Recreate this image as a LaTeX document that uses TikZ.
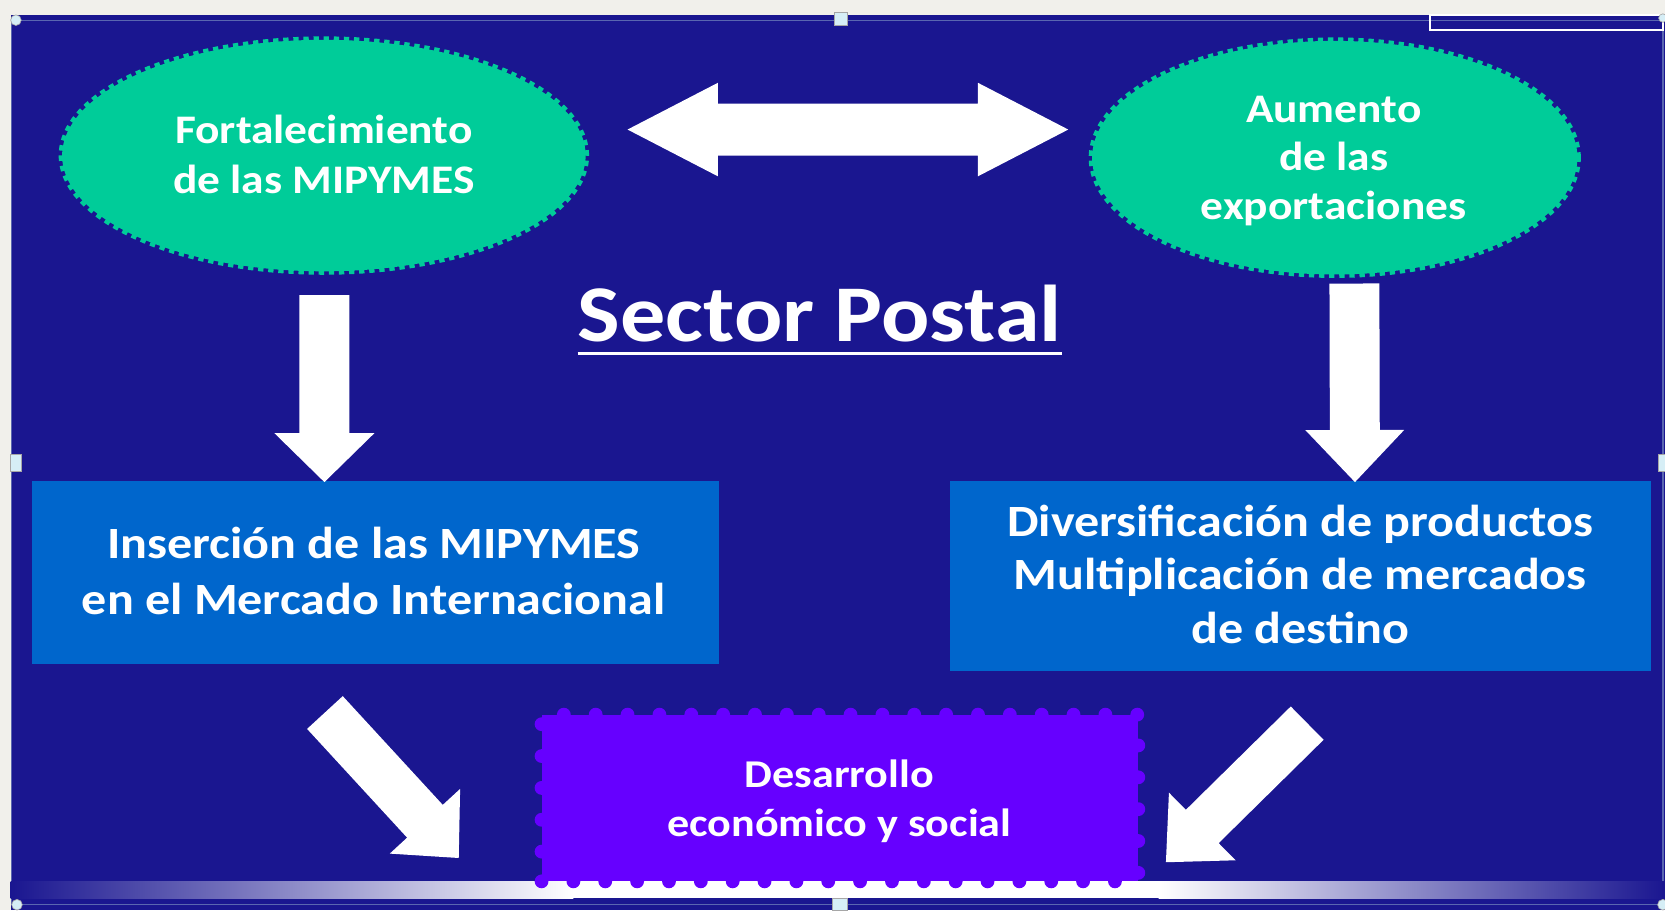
\documentclass[tikz,border=0pt]{standalone}
\usepackage{fontspec}
\setmainfont{Carlito}[FakeStretch=1.12]
\usetikzlibrary{shapes.geometric,calc}
\definecolor{navy}{HTML}{1A1690}
\definecolor{mint}{HTML}{00CC99}
\definecolor{boxblue}{HTML}{0066CC}
\definecolor{violetbox}{HTML}{6600FF}
\definecolor{cream}{HTML}{F1F0EB}
\definecolor{framec}{HTML}{5A66B0}
\definecolor{handlec}{HTML}{D6EEF6}
% #1 name, #2 tail, #3 tip, #4 half shaft, #5 half head, #6 head length
\newcommand\blockarrow[6]{%
  \coordinate (#1h) at ($(#3)!#6!(#2)$);
  \fill[white] ($(#2)!#4!90:(#3)$) -- ($(#1h)!#4!90:(#3)$) -- ($(#1h)!#5!90:(#3)$)
    -- (#3) -- ($(#1h)!#5!-90:(#3)$) -- ($(#1h)!#4!-90:(#3)$) -- ($(#2)!#4!-90:(#3)$) -- cycle;}
\newcommand\twinarrow[6]{%
  \coordinate (#1a) at ($(#2)!#6!(#3)$);
  \coordinate (#1b) at ($(#3)!#6!(#2)$);
  \fill[white] (#2) -- ($(#1a)!#5!90:(#3)$) -- ($(#1a)!#4!90:(#3)$) -- ($(#1b)!#4!90:(#3)$)
    -- ($(#1b)!#5!90:(#3)$) -- (#3) -- ($(#1b)!#5!-90:(#3)$) -- ($(#1b)!#4!-90:(#3)$)
    -- ($(#1a)!#4!-90:(#3)$) -- ($(#1a)!#5!-90:(#3)$) -- cycle;}
\begin{document}
\begin{tikzpicture}[x=1pt,y=-1pt,
  ell/.style={ellipse, fill=mint, draw=mint, line width=6.5pt,
    dash pattern=on 5pt off 4.5pt, inner sep=0pt},
  bluebox/.style={rectangle, fill=boxblue, inner sep=0pt},
  pbox/.style={rectangle, fill=violetbox, draw=violetbox, line width=13pt,
    dash pattern=on 0pt off 30pt, line cap=round, inner sep=0pt},
  txt/.style={text=white, align=center, inner sep=0pt},
  handle/.style={fill=handlec, draw=gray!70, line width=0.6pt}]
\useasboundingbox (0,0) rectangle (1568,857);
\fill[cream] (0,0) rectangle (1568,857);
\fill[navy] (10,14) rectangle (1568,857);
\draw[framec, line width=1.2pt] (11,19.5) rectangle (1566,852);
\draw[white, line width=2pt] (1347,14) rectangle (1566,28);
% bottom gradient bar
\shade[left color=navy, right color=white] (10,830) rectangle (540,846);
\fill[white] (540,830) rectangle (1091,846);
\shade[left color=white, right color=navy] (1091,830) rectangle (1568,846);
% shapes
\node[ell, minimum width=493pt, minimum height=218pt] (e1) at (305,146.5) {};
\node[ell, minimum width=457pt, minimum height=220pt] (e2) at (1257,148.5) {};
\node[bluebox, minimum width=647pt, minimum height=172pt] (b1) at (353.5,539) {};
\node[bluebox, minimum width=660.5pt, minimum height=179pt] (b2) at (1224.75,542.5) {};
\node[pbox, minimum width=562pt, minimum height=157pt] (d) at (791,751.5) {};
% arrows
\coordinate (da1) at (591,122); \coordinate (da2) at (1006,122);
\twinarrow{dbl}{da1}{da2}{24.5pt}{44pt}{85pt}
\coordinate (a1s) at (305.5,278); \coordinate (a1e) at (305.5,454);
\blockarrow{a1}{a1s}{a1e}{23.5pt}{47pt}{46pt}
\coordinate (a2s) at (1275.5,267); \coordinate (a2e) at (1276,454);
\blockarrow{a2}{a2s}{a2e}{23.5pt}{46.5pt}{49pt}
\coordinate (a3s) at (306,671); \coordinate (a3e) at (432,808);
\blockarrow{a3}{a3s}{a3e}{22.8pt}{45pt}{47pt}
\coordinate (a4s) at (1231,681); \coordinate (a4e) at (1098,812);
\blockarrow{a4}{a4s}{a4e}{22pt}{44.7pt}{48pt}
% texts
\node[txt, font=\bfseries\fontsize{38.2}{47}\selectfont] (e1t) at (305,149.1)
  {\strut Fortalecimiento\\\strut de las MIPYMES};
\node[txt, font=\bfseries\fontsize{38.2}{46}\selectfont] (e2t) at (1256,151.8)
  {\strut Aumento\\\strut de las\\\strut exportaciones};
\node[txt, anchor=base west, font=\bfseries\fontsize{75.8}{80}\selectfont] (title) at (544,322)
  {Sector Postal};
\draw[white, line width=2.8pt] ([yshift=-10.5pt]title.base west) -- ([yshift=-10.5pt]title.base east);
\node[txt, font=\bfseries\fontsize{42.1}{53}\selectfont] (b1t) at (352,541.9)
  {\strut Inserción de las MIPYMES\\\strut en el Mercado Internacional};
\node[txt, font=\bfseries\fontsize{42.1}{50.5}\selectfont] (b2t) at (1224.5,545.4)
  {\strut Diversificación de productos\\\strut Multiplicación de mercados\\\strut de destino};
\node[txt, font=\bfseries\fontsize{37.1}{46}\selectfont] (dt) at (790.5,755.8)
  {\strut Desarrollo\\\strut económico y social};
% selection handles
\filldraw[handle] (786,12) rectangle (798,24);
\filldraw[handle] (10,428) rectangle (20,444);
\filldraw[handle] (1562,428) rectangle (1568,444);
\filldraw[handle] (784,846) rectangle (798,857);
\filldraw[handle] (15,19) circle (5);
\filldraw[handle] (16,852) circle (5);
\filldraw[handle] (1566,852) circle (5);
\filldraw[handle] (1566,17) circle (4);
\end{tikzpicture}
\end{document}
